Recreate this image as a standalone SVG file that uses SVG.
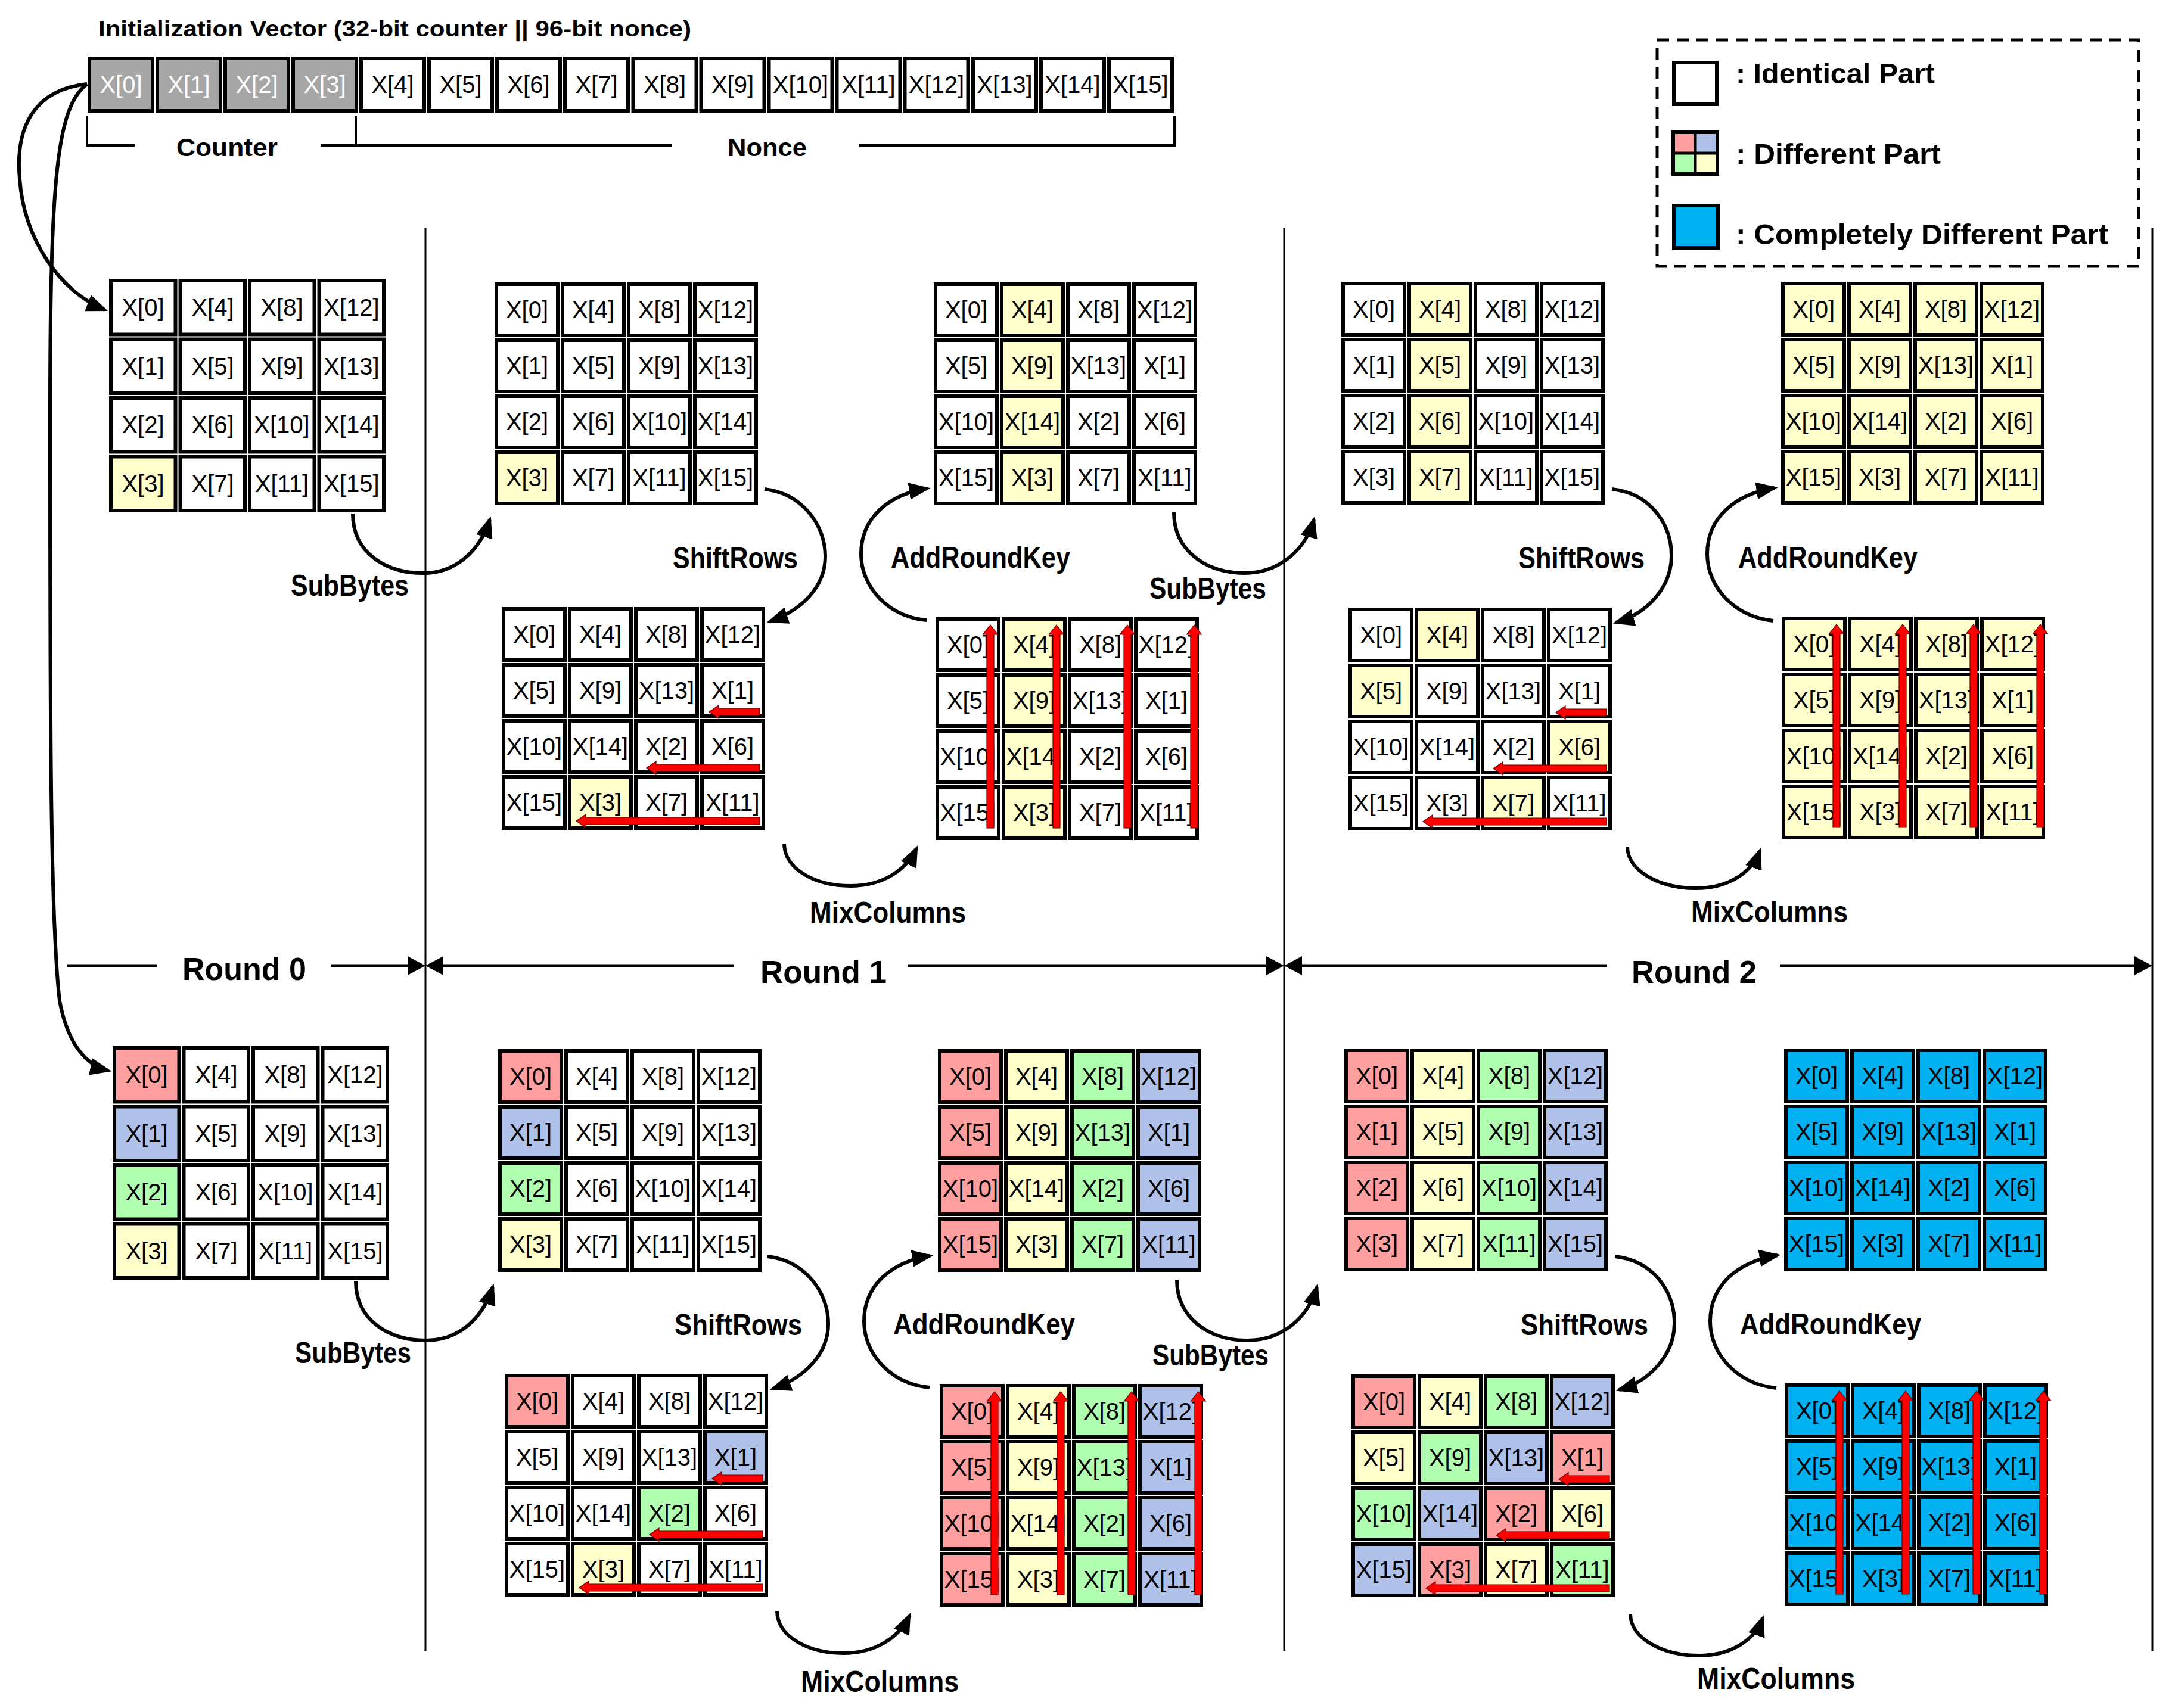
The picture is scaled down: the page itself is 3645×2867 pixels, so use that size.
<svg xmlns="http://www.w3.org/2000/svg" width="3645" height="2867" viewBox="0 0 3645 2867">
<style>
.grid rect,.iv rect{stroke:#000;stroke-width:6}
.w{fill:#fff}.y{fill:#FFFFCC}.r{fill:#FF9F9F}.b{fill:#AFC0E9}.g{fill:#B0FFB0}.k{fill:#00B0F0}.gr{fill:#A6A6A6}
.grid,.iv{font-family:"Liberation Sans",Arial,sans-serif;font-size:40px;text-anchor:middle;fill:#000}
.grid text,.iv text{fill:#000}
.iv text.tw{fill:#fff}
.lb{font-family:"Liberation Sans",Arial,sans-serif;font-weight:bold;font-size:50px;fill:#000}
.conn path{fill:none;stroke:#000;stroke-width:6;marker-end:url(#ah)}
.ra{fill:#FF0000;stroke:#600;stroke-width:1.2}
.sep{stroke:#000;stroke-width:3;fill:none}
.rl{stroke:#000;stroke-width:5;fill:none}
</style>
<defs>
<marker id="ah" viewBox="0 0 10 8" refX="8.5" refY="4" markerWidth="6" markerHeight="4.8" orient="auto" markerUnits="strokeWidth"><path d="M0,0 L10,4 L0,8 z" fill="#000"/></marker>
</defs>
<rect x="0" y="0" width="3645" height="2867" fill="#fff"/>

<!-- IV -->
<text class="lb" x="165" y="61" style="font-size:36px" textLength="995" lengthAdjust="spacingAndGlyphs">Initialization Vector (32-bit counter || 96-bit nonce)</text>
<g id="iv" class="iv">
<rect x="150" y="98" width="106" height="88" class="gr"/><rect x="264" y="98" width="106" height="88" class="gr"/><rect x="378" y="98" width="106" height="88" class="gr"/><rect x="492" y="98" width="106" height="88" class="gr"/>
<rect x="606" y="98" width="106" height="88" class="w"/><rect x="720" y="98" width="106" height="88" class="w"/><rect x="834" y="98" width="106" height="88" class="w"/><rect x="948" y="98" width="106" height="88" class="w"/>
<rect x="1062.5" y="98" width="106" height="88" class="w"/><rect x="1176.5" y="98" width="106" height="88" class="w"/><rect x="1290.5" y="98" width="106" height="88" class="w"/><rect x="1404.5" y="98" width="106" height="88" class="w"/>
<rect x="1518.5" y="98" width="106" height="88" class="w"/><rect x="1633" y="98" width="106" height="88" class="w"/><rect x="1747" y="98" width="106" height="88" class="w"/><rect x="1861" y="98" width="106" height="88" class="w"/>
<text class="tw" x="203" y="156">X[0]</text><text class="tw" x="317" y="156">X[1]</text><text class="tw" x="431" y="156">X[2]</text><text class="tw" x="545" y="156">X[3]</text>
<text x="659" y="156">X[4]</text><text x="773" y="156">X[5]</text><text x="887" y="156">X[6]</text><text x="1001" y="156">X[7]</text>
<text x="1115.5" y="156">X[8]</text><text x="1229.5" y="156">X[9]</text><text x="1343.5" y="156">X[10]</text><text x="1457.5" y="156">X[11]</text>
<text x="1571.5" y="156">X[12]</text><text x="1686" y="156">X[13]</text><text x="1800" y="156">X[14]</text><text x="1914" y="156">X[15]</text>
</g>
<g id="brackets">
<path d="M146,195 V244 H226 M538,244 H1128 M597,195 V244 M1441,244 H1971 V195" stroke="#000" stroke-width="4" fill="none"/>
<text class="lb" x="296" y="262" style="font-size:42px" textLength="170" lengthAdjust="spacingAndGlyphs">Counter</text>
<text class="lb" x="1221" y="262" style="font-size:42px" textLength="133" lengthAdjust="spacingAndGlyphs">Nonce</text>
</g>

<!-- Legend -->
<g id="legend">
<rect x="2781" y="67" width="808" height="380" fill="none" stroke="#000" stroke-width="5" stroke-dasharray="20 13"/>
<rect x="2809" y="105" width="72" height="70" fill="#fff" stroke="#000" stroke-width="6"/>
<rect x="2808" y="222" width="37" height="35" class="r"/><rect x="2845" y="222" width="37" height="35" class="b"/>
<rect x="2808" y="257" width="37" height="35" class="g"/><rect x="2845" y="257" width="37" height="35" class="y"/>
<rect x="2808" y="222" width="74" height="70" fill="none" stroke="#000" stroke-width="6"/>
<path d="M2845,222 V292 M2808,257 H2882" stroke="#000" stroke-width="5"/>
<rect x="2809" y="345" width="74" height="71" class="k" stroke="#000" stroke-width="6"/>
<text class="lb" x="2913" y="140" style="font-size:48px" textLength="334" lengthAdjust="spacingAndGlyphs">: Identical Part</text>
<text class="lb" x="2913" y="275" style="font-size:48px" textLength="344" lengthAdjust="spacingAndGlyphs">: Different Part</text>
<text class="lb" x="2913" y="410" style="font-size:48px" textLength="625" lengthAdjust="spacingAndGlyphs">: Completely Different Part</text>
</g>

<!-- Separators and round arrows -->
<g id="rounds">
<path class="sep" d="M714,383 V2771 M2155,383 V2771 M3612,383 V2771"/>
<path class="rl" d="M113,1621 H264 M555,1621 H690 M738,1621 H1232 M1523,1621 H2131 M2179,1621 H2697 M2987,1621 H3588"/>
<polygon points="714,1621 684,1605 684,1637"/>
<polygon points="714,1621 744,1605 744,1637"/>
<polygon points="2155,1621 2125,1605 2125,1637"/>
<polygon points="2155,1621 2185,1605 2185,1637"/>
<polygon points="3612,1621 3582,1605 3582,1637"/>
<text class="lb" x="306" y="1645" style="font-size:54px" textLength="208" lengthAdjust="spacingAndGlyphs">Round 0</text>
<text class="lb" x="1276" y="1650" style="font-size:54px" textLength="212" lengthAdjust="spacingAndGlyphs">Round 1</text>
<text class="lb" x="2738" y="1650" style="font-size:54px" textLength="210" lengthAdjust="spacingAndGlyphs">Round 2</text>
</g>

<!-- ===== GRIDS TOP ===== -->
<g id="A1" class="grid" transform="translate(182,467)">
<rect x="4" y="4" width="108.5" height="90.5" class="w"/><rect x="120.5" y="4" width="108.5" height="90.5" class="w"/><rect x="237" y="4" width="108.5" height="90.5" class="w"/><rect x="353.5" y="4" width="108.5" height="90.5" class="w"/>
<rect x="4" y="102.5" width="108.5" height="90.5" class="w"/><rect x="120.5" y="102.5" width="108.5" height="90.5" class="w"/><rect x="237" y="102.5" width="108.5" height="90.5" class="w"/><rect x="353.5" y="102.5" width="108.5" height="90.5" class="w"/>
<rect x="4" y="201" width="108.5" height="90.5" class="w"/><rect x="120.5" y="201" width="108.5" height="90.5" class="w"/><rect x="237" y="201" width="108.5" height="90.5" class="w"/><rect x="353.5" y="201" width="108.5" height="90.5" class="w"/>
<rect x="4" y="299.5" width="108.5" height="90.5" class="y"/><rect x="120.5" y="299.5" width="108.5" height="90.5" class="w"/><rect x="237" y="299.5" width="108.5" height="90.5" class="w"/><rect x="353.5" y="299.5" width="108.5" height="90.5" class="w"/>
<text x="58" y="63">X[0]</text><text x="175" y="63">X[4]</text><text x="291" y="63">X[8]</text><text x="408" y="63">X[12]</text>
<text x="58" y="162">X[1]</text><text x="175" y="162">X[5]</text><text x="291" y="162">X[9]</text><text x="408" y="162">X[13]</text>
<text x="58" y="260">X[2]</text><text x="175" y="260">X[6]</text><text x="291" y="260">X[10]</text><text x="408" y="260">X[14]</text>
<text x="58" y="359">X[3]</text><text x="175" y="359">X[7]</text><text x="291" y="359">X[11]</text><text x="408" y="359">X[15]</text>
</g>

<g id="B1" class="grid" transform="translate(829,473)">
<rect x="4" y="4" width="103" height="86" class="w"/><rect x="115" y="4" width="103" height="86" class="w"/><rect x="226" y="4" width="103" height="86" class="w"/><rect x="337" y="4" width="103" height="86" class="w"/>
<rect x="4" y="98" width="103" height="86" class="w"/><rect x="115" y="98" width="103" height="86" class="w"/><rect x="226" y="98" width="103" height="86" class="w"/><rect x="337" y="98" width="103" height="86" class="w"/>
<rect x="4" y="192" width="103" height="86" class="w"/><rect x="115" y="192" width="103" height="86" class="w"/><rect x="226" y="192" width="103" height="86" class="w"/><rect x="337" y="192" width="103" height="86" class="w"/>
<rect x="4" y="286" width="103" height="86" class="y"/><rect x="115" y="286" width="103" height="86" class="w"/><rect x="226" y="286" width="103" height="86" class="w"/><rect x="337" y="286" width="103" height="86" class="w"/>
<text x="55.5" y="61">X[0]</text><text x="166.5" y="61">X[4]</text><text x="277.5" y="61">X[8]</text><text x="388.5" y="61">X[12]</text>
<text x="55.5" y="155">X[1]</text><text x="166.5" y="155">X[5]</text><text x="277.5" y="155">X[9]</text><text x="388.5" y="155">X[13]</text>
<text x="55.5" y="249">X[2]</text><text x="166.5" y="249">X[6]</text><text x="277.5" y="249">X[10]</text><text x="388.5" y="249">X[14]</text>
<text x="55.5" y="343">X[3]</text><text x="166.5" y="343">X[7]</text><text x="277.5" y="343">X[11]</text><text x="388.5" y="343">X[15]</text>
</g>

<g id="C1" class="grid" transform="translate(841,1018)">
<rect x="4" y="4" width="103" height="86" class="w"/><rect x="115" y="4" width="103" height="86" class="w"/><rect x="226" y="4" width="103" height="86" class="w"/><rect x="337" y="4" width="103" height="86" class="w"/>
<rect x="4" y="98" width="103" height="86" class="w"/><rect x="115" y="98" width="103" height="86" class="w"/><rect x="226" y="98" width="103" height="86" class="w"/><rect x="337" y="98" width="103" height="86" class="w"/>
<rect x="4" y="192" width="103" height="86" class="w"/><rect x="115" y="192" width="103" height="86" class="w"/><rect x="226" y="192" width="103" height="86" class="w"/><rect x="337" y="192" width="103" height="86" class="w"/>
<rect x="4" y="286" width="103" height="86" class="w"/><rect x="115" y="286" width="103" height="86" class="y"/><rect x="226" y="286" width="103" height="86" class="w"/><rect x="337" y="286" width="103" height="86" class="w"/>
<text x="55.5" y="61">X[0]</text><text x="166.5" y="61">X[4]</text><text x="277.5" y="61">X[8]</text><text x="388.5" y="61">X[12]</text>
<text x="55.5" y="155">X[5]</text><text x="166.5" y="155">X[9]</text><text x="277.5" y="155">X[13]</text><text x="388.5" y="155">X[1]</text>
<text x="55.5" y="249">X[10]</text><text x="166.5" y="249">X[14]</text><text x="277.5" y="249">X[2]</text><text x="388.5" y="249">X[6]</text>
<text x="55.5" y="343">X[15]</text><text x="166.5" y="343">X[3]</text><text x="277.5" y="343">X[7]</text><text x="388.5" y="343">X[11]</text>
<polygon class="ra" points="349,177 365,166 365,171 434,171 434,183 365,183 365,188"/>
<polygon class="ra" points="244,271 260,260 260,265 434,265 434,277 260,277 260,282"/>
<polygon class="ra" points="126,360 142,349 142,354 434,354 434,366 142,366 142,371"/>
</g>

<g id="D1" class="grid" transform="translate(1569,1035)">
<rect x="4" y="4" width="103" height="86" class="w"/><rect x="115" y="4" width="103" height="86" class="y"/><rect x="226" y="4" width="103" height="86" class="w"/><rect x="337" y="4" width="103" height="86" class="w"/>
<rect x="4" y="98" width="103" height="86" class="w"/><rect x="115" y="98" width="103" height="86" class="y"/><rect x="226" y="98" width="103" height="86" class="w"/><rect x="337" y="98" width="103" height="86" class="w"/>
<rect x="4" y="192" width="103" height="86" class="w"/><rect x="115" y="192" width="103" height="86" class="y"/><rect x="226" y="192" width="103" height="86" class="w"/><rect x="337" y="192" width="103" height="86" class="w"/>
<rect x="4" y="286" width="103" height="86" class="w"/><rect x="115" y="286" width="103" height="86" class="y"/><rect x="226" y="286" width="103" height="86" class="w"/><rect x="337" y="286" width="103" height="86" class="w"/>
<text x="55.5" y="61">X[0]</text><text x="166.5" y="61">X[4]</text><text x="277.5" y="61">X[8]</text><text x="388.5" y="61">X[12]</text>
<text x="55.5" y="155">X[5]</text><text x="166.5" y="155">X[9]</text><text x="277.5" y="155">X[13]</text><text x="388.5" y="155">X[1]</text>
<text x="55.5" y="249">X[10]</text><text x="166.5" y="249">X[14]</text><text x="277.5" y="249">X[2]</text><text x="388.5" y="249">X[6]</text>
<text x="55.5" y="343">X[15]</text><text x="166.5" y="343">X[3]</text><text x="277.5" y="343">X[7]</text><text x="388.5" y="343">X[11]</text>
<polygon class="ra" points="93,14 105.5,30 99,30 99,355 87,355 87,30 80.5,30"/>
<polygon class="ra" points="204,14 216.5,30 210,30 210,355 198,355 198,30 191.5,30"/>
<polygon class="ra" points="323,14 335.5,30 329,30 329,355 317,355 317,30 310.5,30"/>
<polygon class="ra" points="435,14 447.5,30 441,30 441,355 429,355 429,30 422.5,30"/>
</g>

<g id="E1" class="grid" transform="translate(1566,473)">
<rect x="4" y="4" width="103" height="86" class="w"/><rect x="115" y="4" width="103" height="86" class="y"/><rect x="226" y="4" width="103" height="86" class="w"/><rect x="337" y="4" width="103" height="86" class="w"/>
<rect x="4" y="98" width="103" height="86" class="w"/><rect x="115" y="98" width="103" height="86" class="y"/><rect x="226" y="98" width="103" height="86" class="w"/><rect x="337" y="98" width="103" height="86" class="w"/>
<rect x="4" y="192" width="103" height="86" class="w"/><rect x="115" y="192" width="103" height="86" class="y"/><rect x="226" y="192" width="103" height="86" class="w"/><rect x="337" y="192" width="103" height="86" class="w"/>
<rect x="4" y="286" width="103" height="86" class="w"/><rect x="115" y="286" width="103" height="86" class="y"/><rect x="226" y="286" width="103" height="86" class="w"/><rect x="337" y="286" width="103" height="86" class="w"/>
<text x="55.5" y="61">X[0]</text><text x="166.5" y="61">X[4]</text><text x="277.5" y="61">X[8]</text><text x="388.5" y="61">X[12]</text>
<text x="55.5" y="155">X[5]</text><text x="166.5" y="155">X[9]</text><text x="277.5" y="155">X[13]</text><text x="388.5" y="155">X[1]</text>
<text x="55.5" y="249">X[10]</text><text x="166.5" y="249">X[14]</text><text x="277.5" y="249">X[2]</text><text x="388.5" y="249">X[6]</text>
<text x="55.5" y="343">X[15]</text><text x="166.5" y="343">X[3]</text><text x="277.5" y="343">X[7]</text><text x="388.5" y="343">X[11]</text>
</g>

<g id="F1" class="grid" transform="translate(2250,472)">
<rect x="4" y="4" width="103" height="86" class="w"/><rect x="115" y="4" width="103" height="86" class="y"/><rect x="226" y="4" width="103" height="86" class="w"/><rect x="337" y="4" width="103" height="86" class="w"/>
<rect x="4" y="98" width="103" height="86" class="w"/><rect x="115" y="98" width="103" height="86" class="y"/><rect x="226" y="98" width="103" height="86" class="w"/><rect x="337" y="98" width="103" height="86" class="w"/>
<rect x="4" y="192" width="103" height="86" class="w"/><rect x="115" y="192" width="103" height="86" class="y"/><rect x="226" y="192" width="103" height="86" class="w"/><rect x="337" y="192" width="103" height="86" class="w"/>
<rect x="4" y="286" width="103" height="86" class="w"/><rect x="115" y="286" width="103" height="86" class="y"/><rect x="226" y="286" width="103" height="86" class="w"/><rect x="337" y="286" width="103" height="86" class="w"/>
<text x="55.5" y="61">X[0]</text><text x="166.5" y="61">X[4]</text><text x="277.5" y="61">X[8]</text><text x="388.5" y="61">X[12]</text>
<text x="55.5" y="155">X[1]</text><text x="166.5" y="155">X[5]</text><text x="277.5" y="155">X[9]</text><text x="388.5" y="155">X[13]</text>
<text x="55.5" y="249">X[2]</text><text x="166.5" y="249">X[6]</text><text x="277.5" y="249">X[10]</text><text x="388.5" y="249">X[14]</text>
<text x="55.5" y="343">X[3]</text><text x="166.5" y="343">X[7]</text><text x="277.5" y="343">X[11]</text><text x="388.5" y="343">X[15]</text>
</g>

<g id="G1" class="grid" transform="translate(2262,1019)">
<rect x="4" y="4" width="103" height="86" class="w"/><rect x="115" y="4" width="103" height="86" class="y"/><rect x="226" y="4" width="103" height="86" class="w"/><rect x="337" y="4" width="103" height="86" class="w"/>
<rect x="4" y="98" width="103" height="86" class="y"/><rect x="115" y="98" width="103" height="86" class="w"/><rect x="226" y="98" width="103" height="86" class="w"/><rect x="337" y="98" width="103" height="86" class="w"/>
<rect x="4" y="192" width="103" height="86" class="w"/><rect x="115" y="192" width="103" height="86" class="w"/><rect x="226" y="192" width="103" height="86" class="w"/><rect x="337" y="192" width="103" height="86" class="y"/>
<rect x="4" y="286" width="103" height="86" class="w"/><rect x="115" y="286" width="103" height="86" class="w"/><rect x="226" y="286" width="103" height="86" class="y"/><rect x="337" y="286" width="103" height="86" class="w"/>
<text x="55.5" y="61">X[0]</text><text x="166.5" y="61">X[4]</text><text x="277.5" y="61">X[8]</text><text x="388.5" y="61">X[12]</text>
<text x="55.5" y="155">X[5]</text><text x="166.5" y="155">X[9]</text><text x="277.5" y="155">X[13]</text><text x="388.5" y="155">X[1]</text>
<text x="55.5" y="249">X[10]</text><text x="166.5" y="249">X[14]</text><text x="277.5" y="249">X[2]</text><text x="388.5" y="249">X[6]</text>
<text x="55.5" y="343">X[15]</text><text x="166.5" y="343">X[3]</text><text x="277.5" y="343">X[7]</text><text x="388.5" y="343">X[11]</text>
<polygon class="ra" points="349,177 365,166 365,171 434,171 434,183 365,183 365,188"/>
<polygon class="ra" points="244,271 260,260 260,265 434,265 434,277 260,277 260,282"/>
<polygon class="ra" points="126,360 142,349 142,354 434,354 434,366 142,366 142,371"/>
</g>

<g id="H1" class="grid" transform="translate(2989,1034)">
<rect x="4" y="4" width="103" height="86" class="y"/><rect x="115" y="4" width="103" height="86" class="y"/><rect x="226" y="4" width="103" height="86" class="y"/><rect x="337" y="4" width="103" height="86" class="y"/>
<rect x="4" y="98" width="103" height="86" class="y"/><rect x="115" y="98" width="103" height="86" class="y"/><rect x="226" y="98" width="103" height="86" class="y"/><rect x="337" y="98" width="103" height="86" class="y"/>
<rect x="4" y="192" width="103" height="86" class="y"/><rect x="115" y="192" width="103" height="86" class="y"/><rect x="226" y="192" width="103" height="86" class="y"/><rect x="337" y="192" width="103" height="86" class="y"/>
<rect x="4" y="286" width="103" height="86" class="y"/><rect x="115" y="286" width="103" height="86" class="y"/><rect x="226" y="286" width="103" height="86" class="y"/><rect x="337" y="286" width="103" height="86" class="y"/>
<text x="55.5" y="61">X[0]</text><text x="166.5" y="61">X[4]</text><text x="277.5" y="61">X[8]</text><text x="388.5" y="61">X[12]</text>
<text x="55.5" y="155">X[5]</text><text x="166.5" y="155">X[9]</text><text x="277.5" y="155">X[13]</text><text x="388.5" y="155">X[1]</text>
<text x="55.5" y="249">X[10]</text><text x="166.5" y="249">X[14]</text><text x="277.5" y="249">X[2]</text><text x="388.5" y="249">X[6]</text>
<text x="55.5" y="343">X[15]</text><text x="166.5" y="343">X[3]</text><text x="277.5" y="343">X[7]</text><text x="388.5" y="343">X[11]</text>
<polygon class="ra" points="93,14 105.5,30 99,30 99,355 87,355 87,30 80.5,30"/>
<polygon class="ra" points="204,14 216.5,30 210,30 210,355 198,355 198,30 191.5,30"/>
<polygon class="ra" points="323,14 335.5,30 329,30 329,355 317,355 317,30 310.5,30"/>
<polygon class="ra" points="435,14 447.5,30 441,30 441,355 429,355 429,30 422.5,30"/>
</g>

<g id="I1" class="grid" transform="translate(2988,472)">
<rect x="4" y="4" width="103" height="86" class="y"/><rect x="115" y="4" width="103" height="86" class="y"/><rect x="226" y="4" width="103" height="86" class="y"/><rect x="337" y="4" width="103" height="86" class="y"/>
<rect x="4" y="98" width="103" height="86" class="y"/><rect x="115" y="98" width="103" height="86" class="y"/><rect x="226" y="98" width="103" height="86" class="y"/><rect x="337" y="98" width="103" height="86" class="y"/>
<rect x="4" y="192" width="103" height="86" class="y"/><rect x="115" y="192" width="103" height="86" class="y"/><rect x="226" y="192" width="103" height="86" class="y"/><rect x="337" y="192" width="103" height="86" class="y"/>
<rect x="4" y="286" width="103" height="86" class="y"/><rect x="115" y="286" width="103" height="86" class="y"/><rect x="226" y="286" width="103" height="86" class="y"/><rect x="337" y="286" width="103" height="86" class="y"/>
<text x="55.5" y="61">X[0]</text><text x="166.5" y="61">X[4]</text><text x="277.5" y="61">X[8]</text><text x="388.5" y="61">X[12]</text>
<text x="55.5" y="155">X[5]</text><text x="166.5" y="155">X[9]</text><text x="277.5" y="155">X[13]</text><text x="388.5" y="155">X[1]</text>
<text x="55.5" y="249">X[10]</text><text x="166.5" y="249">X[14]</text><text x="277.5" y="249">X[2]</text><text x="388.5" y="249">X[6]</text>
<text x="55.5" y="343">X[15]</text><text x="166.5" y="343">X[3]</text><text x="277.5" y="343">X[7]</text><text x="388.5" y="343">X[11]</text>
</g>

<!-- ===== GRIDS BOTTOM ===== -->
<g id="A2" class="grid" transform="translate(188,1755)">
<rect x="4" y="4" width="108.5" height="90.5" class="r"/><rect x="120.5" y="4" width="108.5" height="90.5" class="w"/><rect x="237" y="4" width="108.5" height="90.5" class="w"/><rect x="353.5" y="4" width="108.5" height="90.5" class="w"/>
<rect x="4" y="102.5" width="108.5" height="90.5" class="b"/><rect x="120.5" y="102.5" width="108.5" height="90.5" class="w"/><rect x="237" y="102.5" width="108.5" height="90.5" class="w"/><rect x="353.5" y="102.5" width="108.5" height="90.5" class="w"/>
<rect x="4" y="201" width="108.5" height="90.5" class="g"/><rect x="120.5" y="201" width="108.5" height="90.5" class="w"/><rect x="237" y="201" width="108.5" height="90.5" class="w"/><rect x="353.5" y="201" width="108.5" height="90.5" class="w"/>
<rect x="4" y="299.5" width="108.5" height="90.5" class="y"/><rect x="120.5" y="299.5" width="108.5" height="90.5" class="w"/><rect x="237" y="299.5" width="108.5" height="90.5" class="w"/><rect x="353.5" y="299.5" width="108.5" height="90.5" class="w"/>
<text x="58" y="63">X[0]</text><text x="175" y="63">X[4]</text><text x="291" y="63">X[8]</text><text x="408" y="63">X[12]</text>
<text x="58" y="162">X[1]</text><text x="175" y="162">X[5]</text><text x="291" y="162">X[9]</text><text x="408" y="162">X[13]</text>
<text x="58" y="260">X[2]</text><text x="175" y="260">X[6]</text><text x="291" y="260">X[10]</text><text x="408" y="260">X[14]</text>
<text x="58" y="359">X[3]</text><text x="175" y="359">X[7]</text><text x="291" y="359">X[11]</text><text x="408" y="359">X[15]</text>
</g>

<g id="B2" class="grid" transform="translate(835,1760)">
<rect x="4" y="4" width="103" height="86" class="r"/><rect x="115" y="4" width="103" height="86" class="w"/><rect x="226" y="4" width="103" height="86" class="w"/><rect x="337" y="4" width="103" height="86" class="w"/>
<rect x="4" y="98" width="103" height="86" class="b"/><rect x="115" y="98" width="103" height="86" class="w"/><rect x="226" y="98" width="103" height="86" class="w"/><rect x="337" y="98" width="103" height="86" class="w"/>
<rect x="4" y="192" width="103" height="86" class="g"/><rect x="115" y="192" width="103" height="86" class="w"/><rect x="226" y="192" width="103" height="86" class="w"/><rect x="337" y="192" width="103" height="86" class="w"/>
<rect x="4" y="286" width="103" height="86" class="y"/><rect x="115" y="286" width="103" height="86" class="w"/><rect x="226" y="286" width="103" height="86" class="w"/><rect x="337" y="286" width="103" height="86" class="w"/>
<text x="55.5" y="61">X[0]</text><text x="166.5" y="61">X[4]</text><text x="277.5" y="61">X[8]</text><text x="388.5" y="61">X[12]</text>
<text x="55.5" y="155">X[1]</text><text x="166.5" y="155">X[5]</text><text x="277.5" y="155">X[9]</text><text x="388.5" y="155">X[13]</text>
<text x="55.5" y="249">X[2]</text><text x="166.5" y="249">X[6]</text><text x="277.5" y="249">X[10]</text><text x="388.5" y="249">X[14]</text>
<text x="55.5" y="343">X[3]</text><text x="166.5" y="343">X[7]</text><text x="277.5" y="343">X[11]</text><text x="388.5" y="343">X[15]</text>
</g>

<g id="C2" class="grid" transform="translate(846,2305)">
<rect x="4" y="4" width="103" height="86" class="r"/><rect x="115" y="4" width="103" height="86" class="w"/><rect x="226" y="4" width="103" height="86" class="w"/><rect x="337" y="4" width="103" height="86" class="w"/>
<rect x="4" y="98" width="103" height="86" class="w"/><rect x="115" y="98" width="103" height="86" class="w"/><rect x="226" y="98" width="103" height="86" class="w"/><rect x="337" y="98" width="103" height="86" class="b"/>
<rect x="4" y="192" width="103" height="86" class="w"/><rect x="115" y="192" width="103" height="86" class="w"/><rect x="226" y="192" width="103" height="86" class="g"/><rect x="337" y="192" width="103" height="86" class="w"/>
<rect x="4" y="286" width="103" height="86" class="w"/><rect x="115" y="286" width="103" height="86" class="y"/><rect x="226" y="286" width="103" height="86" class="w"/><rect x="337" y="286" width="103" height="86" class="w"/>
<text x="55.5" y="61">X[0]</text><text x="166.5" y="61">X[4]</text><text x="277.5" y="61">X[8]</text><text x="388.5" y="61">X[12]</text>
<text x="55.5" y="155">X[5]</text><text x="166.5" y="155">X[9]</text><text x="277.5" y="155">X[13]</text><text x="388.5" y="155">X[1]</text>
<text x="55.5" y="249">X[10]</text><text x="166.5" y="249">X[14]</text><text x="277.5" y="249">X[2]</text><text x="388.5" y="249">X[6]</text>
<text x="55.5" y="343">X[15]</text><text x="166.5" y="343">X[3]</text><text x="277.5" y="343">X[7]</text><text x="388.5" y="343">X[11]</text>
<polygon class="ra" points="349,177 365,166 365,171 434,171 434,183 365,183 365,188"/>
<polygon class="ra" points="244,271 260,260 260,265 434,265 434,277 260,277 260,282"/>
<polygon class="ra" points="126,360 142,349 142,354 434,354 434,366 142,366 142,371"/>
</g>

<g id="D2" class="grid" transform="translate(1576,2322)">
<rect x="4" y="4" width="103" height="86" class="r"/><rect x="115" y="4" width="103" height="86" class="y"/><rect x="226" y="4" width="103" height="86" class="g"/><rect x="337" y="4" width="103" height="86" class="b"/>
<rect x="4" y="98" width="103" height="86" class="r"/><rect x="115" y="98" width="103" height="86" class="y"/><rect x="226" y="98" width="103" height="86" class="g"/><rect x="337" y="98" width="103" height="86" class="b"/>
<rect x="4" y="192" width="103" height="86" class="r"/><rect x="115" y="192" width="103" height="86" class="y"/><rect x="226" y="192" width="103" height="86" class="g"/><rect x="337" y="192" width="103" height="86" class="b"/>
<rect x="4" y="286" width="103" height="86" class="r"/><rect x="115" y="286" width="103" height="86" class="y"/><rect x="226" y="286" width="103" height="86" class="g"/><rect x="337" y="286" width="103" height="86" class="b"/>
<text x="55.5" y="61">X[0]</text><text x="166.5" y="61">X[4]</text><text x="277.5" y="61">X[8]</text><text x="388.5" y="61">X[12]</text>
<text x="55.5" y="155">X[5]</text><text x="166.5" y="155">X[9]</text><text x="277.5" y="155">X[13]</text><text x="388.5" y="155">X[1]</text>
<text x="55.5" y="249">X[10]</text><text x="166.5" y="249">X[14]</text><text x="277.5" y="249">X[2]</text><text x="388.5" y="249">X[6]</text>
<text x="55.5" y="343">X[15]</text><text x="166.5" y="343">X[3]</text><text x="277.5" y="343">X[7]</text><text x="388.5" y="343">X[11]</text>
<polygon class="ra" points="93,14 105.5,30 99,30 99,355 87,355 87,30 80.5,30"/>
<polygon class="ra" points="204,14 216.5,30 210,30 210,355 198,355 198,30 191.5,30"/>
<polygon class="ra" points="323,14 335.5,30 329,30 329,355 317,355 317,30 310.5,30"/>
<polygon class="ra" points="435,14 447.5,30 441,30 441,355 429,355 429,30 422.5,30"/>
</g>

<g id="E2" class="grid" transform="translate(1573,1760)">
<rect x="4" y="4" width="103" height="86" class="r"/><rect x="115" y="4" width="103" height="86" class="y"/><rect x="226" y="4" width="103" height="86" class="g"/><rect x="337" y="4" width="103" height="86" class="b"/>
<rect x="4" y="98" width="103" height="86" class="r"/><rect x="115" y="98" width="103" height="86" class="y"/><rect x="226" y="98" width="103" height="86" class="g"/><rect x="337" y="98" width="103" height="86" class="b"/>
<rect x="4" y="192" width="103" height="86" class="r"/><rect x="115" y="192" width="103" height="86" class="y"/><rect x="226" y="192" width="103" height="86" class="g"/><rect x="337" y="192" width="103" height="86" class="b"/>
<rect x="4" y="286" width="103" height="86" class="r"/><rect x="115" y="286" width="103" height="86" class="y"/><rect x="226" y="286" width="103" height="86" class="g"/><rect x="337" y="286" width="103" height="86" class="b"/>
<text x="55.5" y="61">X[0]</text><text x="166.5" y="61">X[4]</text><text x="277.5" y="61">X[8]</text><text x="388.5" y="61">X[12]</text>
<text x="55.5" y="155">X[5]</text><text x="166.5" y="155">X[9]</text><text x="277.5" y="155">X[13]</text><text x="388.5" y="155">X[1]</text>
<text x="55.5" y="249">X[10]</text><text x="166.5" y="249">X[14]</text><text x="277.5" y="249">X[2]</text><text x="388.5" y="249">X[6]</text>
<text x="55.5" y="343">X[15]</text><text x="166.5" y="343">X[3]</text><text x="277.5" y="343">X[7]</text><text x="388.5" y="343">X[11]</text>
</g>

<g id="F2" class="grid" transform="translate(2255,1759)">
<rect x="4" y="4" width="103" height="86" class="r"/><rect x="115" y="4" width="103" height="86" class="y"/><rect x="226" y="4" width="103" height="86" class="g"/><rect x="337" y="4" width="103" height="86" class="b"/>
<rect x="4" y="98" width="103" height="86" class="r"/><rect x="115" y="98" width="103" height="86" class="y"/><rect x="226" y="98" width="103" height="86" class="g"/><rect x="337" y="98" width="103" height="86" class="b"/>
<rect x="4" y="192" width="103" height="86" class="r"/><rect x="115" y="192" width="103" height="86" class="y"/><rect x="226" y="192" width="103" height="86" class="g"/><rect x="337" y="192" width="103" height="86" class="b"/>
<rect x="4" y="286" width="103" height="86" class="r"/><rect x="115" y="286" width="103" height="86" class="y"/><rect x="226" y="286" width="103" height="86" class="g"/><rect x="337" y="286" width="103" height="86" class="b"/>
<text x="55.5" y="61">X[0]</text><text x="166.5" y="61">X[4]</text><text x="277.5" y="61">X[8]</text><text x="388.5" y="61">X[12]</text>
<text x="55.5" y="155">X[1]</text><text x="166.5" y="155">X[5]</text><text x="277.5" y="155">X[9]</text><text x="388.5" y="155">X[13]</text>
<text x="55.5" y="249">X[2]</text><text x="166.5" y="249">X[6]</text><text x="277.5" y="249">X[10]</text><text x="388.5" y="249">X[14]</text>
<text x="55.5" y="343">X[3]</text><text x="166.5" y="343">X[7]</text><text x="277.5" y="343">X[11]</text><text x="388.5" y="343">X[15]</text>
</g>

<g id="G2" class="grid" transform="translate(2267,2306)">
<rect x="4" y="4" width="103" height="86" class="r"/><rect x="115" y="4" width="103" height="86" class="y"/><rect x="226" y="4" width="103" height="86" class="g"/><rect x="337" y="4" width="103" height="86" class="b"/>
<rect x="4" y="98" width="103" height="86" class="y"/><rect x="115" y="98" width="103" height="86" class="g"/><rect x="226" y="98" width="103" height="86" class="b"/><rect x="337" y="98" width="103" height="86" class="r"/>
<rect x="4" y="192" width="103" height="86" class="g"/><rect x="115" y="192" width="103" height="86" class="b"/><rect x="226" y="192" width="103" height="86" class="r"/><rect x="337" y="192" width="103" height="86" class="y"/>
<rect x="4" y="286" width="103" height="86" class="b"/><rect x="115" y="286" width="103" height="86" class="r"/><rect x="226" y="286" width="103" height="86" class="y"/><rect x="337" y="286" width="103" height="86" class="g"/>
<text x="55.5" y="61">X[0]</text><text x="166.5" y="61">X[4]</text><text x="277.5" y="61">X[8]</text><text x="388.5" y="61">X[12]</text>
<text x="55.5" y="155">X[5]</text><text x="166.5" y="155">X[9]</text><text x="277.5" y="155">X[13]</text><text x="388.5" y="155">X[1]</text>
<text x="55.5" y="249">X[10]</text><text x="166.5" y="249">X[14]</text><text x="277.5" y="249">X[2]</text><text x="388.5" y="249">X[6]</text>
<text x="55.5" y="343">X[15]</text><text x="166.5" y="343">X[3]</text><text x="277.5" y="343">X[7]</text><text x="388.5" y="343">X[11]</text>
<polygon class="ra" points="349,177 365,166 365,171 434,171 434,183 365,183 365,188"/>
<polygon class="ra" points="244,271 260,260 260,265 434,265 434,277 260,277 260,282"/>
<polygon class="ra" points="126,360 142,349 142,354 434,354 434,366 142,366 142,371"/>
</g>

<g id="H2" class="grid" transform="translate(2994,2321)">
<rect x="4" y="4" width="103" height="86" class="k"/><rect x="115" y="4" width="103" height="86" class="k"/><rect x="226" y="4" width="103" height="86" class="k"/><rect x="337" y="4" width="103" height="86" class="k"/>
<rect x="4" y="98" width="103" height="86" class="k"/><rect x="115" y="98" width="103" height="86" class="k"/><rect x="226" y="98" width="103" height="86" class="k"/><rect x="337" y="98" width="103" height="86" class="k"/>
<rect x="4" y="192" width="103" height="86" class="k"/><rect x="115" y="192" width="103" height="86" class="k"/><rect x="226" y="192" width="103" height="86" class="k"/><rect x="337" y="192" width="103" height="86" class="k"/>
<rect x="4" y="286" width="103" height="86" class="k"/><rect x="115" y="286" width="103" height="86" class="k"/><rect x="226" y="286" width="103" height="86" class="k"/><rect x="337" y="286" width="103" height="86" class="k"/>
<text x="55.5" y="61">X[0]</text><text x="166.5" y="61">X[4]</text><text x="277.5" y="61">X[8]</text><text x="388.5" y="61">X[12]</text>
<text x="55.5" y="155">X[5]</text><text x="166.5" y="155">X[9]</text><text x="277.5" y="155">X[13]</text><text x="388.5" y="155">X[1]</text>
<text x="55.5" y="249">X[10]</text><text x="166.5" y="249">X[14]</text><text x="277.5" y="249">X[2]</text><text x="388.5" y="249">X[6]</text>
<text x="55.5" y="343">X[15]</text><text x="166.5" y="343">X[3]</text><text x="277.5" y="343">X[7]</text><text x="388.5" y="343">X[11]</text>
<polygon class="ra" points="93,14 105.5,30 99,30 99,355 87,355 87,30 80.5,30"/>
<polygon class="ra" points="204,14 216.5,30 210,30 210,355 198,355 198,30 191.5,30"/>
<polygon class="ra" points="323,14 335.5,30 329,30 329,355 317,355 317,30 310.5,30"/>
<polygon class="ra" points="435,14 447.5,30 441,30 441,355 429,355 429,30 422.5,30"/>
</g>

<g id="I2" class="grid" transform="translate(2993,1759)">
<rect x="4" y="4" width="103" height="86" class="k"/><rect x="115" y="4" width="103" height="86" class="k"/><rect x="226" y="4" width="103" height="86" class="k"/><rect x="337" y="4" width="103" height="86" class="k"/>
<rect x="4" y="98" width="103" height="86" class="k"/><rect x="115" y="98" width="103" height="86" class="k"/><rect x="226" y="98" width="103" height="86" class="k"/><rect x="337" y="98" width="103" height="86" class="k"/>
<rect x="4" y="192" width="103" height="86" class="k"/><rect x="115" y="192" width="103" height="86" class="k"/><rect x="226" y="192" width="103" height="86" class="k"/><rect x="337" y="192" width="103" height="86" class="k"/>
<rect x="4" y="286" width="103" height="86" class="k"/><rect x="115" y="286" width="103" height="86" class="k"/><rect x="226" y="286" width="103" height="86" class="k"/><rect x="337" y="286" width="103" height="86" class="k"/>
<text x="55.5" y="61">X[0]</text><text x="166.5" y="61">X[4]</text><text x="277.5" y="61">X[8]</text><text x="388.5" y="61">X[12]</text>
<text x="55.5" y="155">X[5]</text><text x="166.5" y="155">X[9]</text><text x="277.5" y="155">X[13]</text><text x="388.5" y="155">X[1]</text>
<text x="55.5" y="249">X[10]</text><text x="166.5" y="249">X[14]</text><text x="277.5" y="249">X[2]</text><text x="388.5" y="249">X[6]</text>
<text x="55.5" y="343">X[15]</text><text x="166.5" y="343">X[3]</text><text x="277.5" y="343">X[7]</text><text x="388.5" y="343">X[11]</text>
</g>

<!-- ===== CONNECTORS ===== -->
<g id="connectors" class="conn">
<path d="M146,141 C60,150 25,210 33,300 C40,400 100,490 176,520"/>
<path d="M146,141 C95,180 84,300 84,700 C84,1200 84,1540 100,1680 C115,1760 150,1790 182,1797"/>
<path d="M592,862 C592,930 650,962 710,962 C765,962 805,925 822,872"/>
<path d="M1283,821 C1345,828 1385,880 1385,934 C1385,985 1345,1025 1292,1043"/>
<path d="M1316,1416 C1316,1460 1370,1487 1427,1487 C1480,1487 1520,1462 1538,1424"/>
<path d="M1555,1041 C1490,1035 1445,985 1445,930 C1445,870 1490,830 1556,820"/>
<path d="M1970,860 C1970,925 2025,962 2088,962 C2145,962 2190,925 2205,872"/>
<path d="M2705,821 C2770,828 2805,880 2805,933 C2805,985 2765,1030 2712,1045"/>
<path d="M2731,1421 C2731,1462 2785,1491 2846,1491 C2900,1491 2940,1465 2953,1428"/>
<path d="M2976,1042 C2910,1035 2865,985 2865,930 C2865,870 2910,830 2978,819"/>
<path d="M597,2150 C597,2218 655,2250 715,2250 C770,2250 810,2213 827,2160"/>
<path d="M1288,2109 C1350,2116 1390,2168 1390,2222 C1390,2273 1350,2313 1297,2331"/>
<path d="M1304,2704 C1304,2748 1358,2775 1415,2775 C1468,2775 1508,2750 1526,2712"/>
<path d="M1560,2329 C1495,2323 1450,2273 1450,2218 C1450,2158 1495,2118 1561,2108"/>
<path d="M1975,2148 C1975,2213 2030,2250 2093,2250 C2150,2250 2195,2213 2210,2160"/>
<path d="M2710,2109 C2775,2116 2810,2168 2810,2221 C2810,2273 2770,2318 2717,2333"/>
<path d="M2736,2709 C2736,2750 2790,2779 2851,2779 C2905,2779 2945,2753 2958,2716"/>
<path d="M2981,2330 C2915,2323 2870,2273 2870,2218 C2870,2158 2915,2118 2983,2107"/>
</g>

<!-- ===== LABELS ===== -->
<g id="labels">
<text class="lb" x="488" y="1000" textLength="198" lengthAdjust="spacingAndGlyphs">SubBytes</text>
<text class="lb" x="1129" y="954" textLength="210" lengthAdjust="spacingAndGlyphs">ShiftRows</text>
<text class="lb" x="1495" y="953" textLength="301" lengthAdjust="spacingAndGlyphs">AddRoundKey</text>
<text class="lb" x="1359" y="1549" textLength="262" lengthAdjust="spacingAndGlyphs">MixColumns</text>
<text class="lb" x="1929" y="1005" textLength="196" lengthAdjust="spacingAndGlyphs">SubBytes</text>
<text class="lb" x="2548" y="954" textLength="212" lengthAdjust="spacingAndGlyphs">ShiftRows</text>
<text class="lb" x="2917" y="953" textLength="301" lengthAdjust="spacingAndGlyphs">AddRoundKey</text>
<text class="lb" x="2838" y="1548" textLength="263" lengthAdjust="spacingAndGlyphs">MixColumns</text>
<text class="lb" x="495" y="2288" textLength="195" lengthAdjust="spacingAndGlyphs">SubBytes</text>
<text class="lb" x="1132" y="2241" textLength="214" lengthAdjust="spacingAndGlyphs">ShiftRows</text>
<text class="lb" x="1499" y="2240" textLength="305" lengthAdjust="spacingAndGlyphs">AddRoundKey</text>
<text class="lb" x="1344" y="2840" textLength="265" lengthAdjust="spacingAndGlyphs">MixColumns</text>
<text class="lb" x="1934" y="2292" textLength="195" lengthAdjust="spacingAndGlyphs">SubBytes</text>
<text class="lb" x="2552" y="2241" textLength="214" lengthAdjust="spacingAndGlyphs">ShiftRows</text>
<text class="lb" x="2920" y="2240" textLength="304" lengthAdjust="spacingAndGlyphs">AddRoundKey</text>
<text class="lb" x="2848" y="2835" textLength="265" lengthAdjust="spacingAndGlyphs">MixColumns</text>
</g>
</svg>
